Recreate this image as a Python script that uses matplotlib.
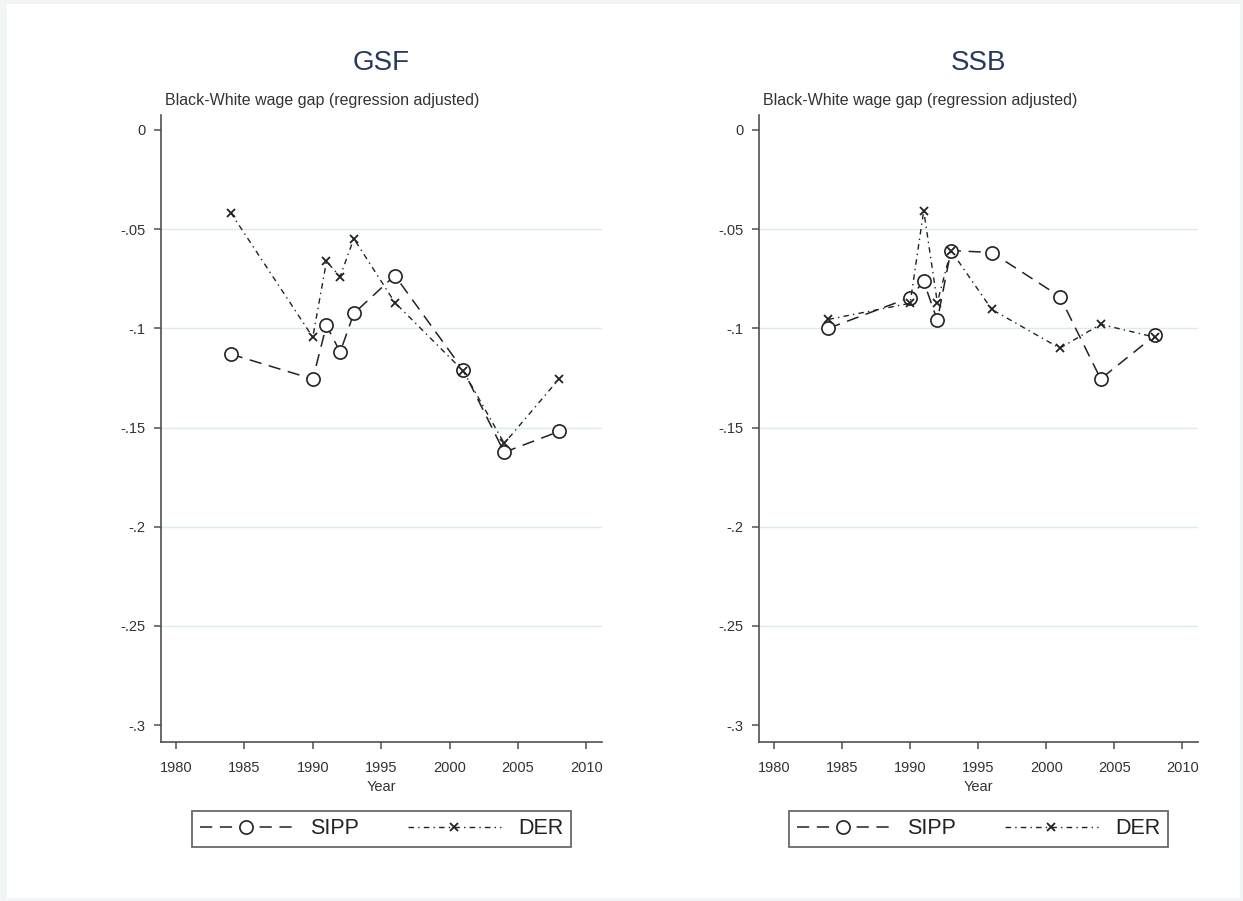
import matplotlib.pyplot as plt
from matplotlib.patches import Rectangle
from matplotlib.lines import Line2D

plt.rcParams["font.family"] = ["Liberation Sans", "DejaVu Sans"]

# survey years
years = [1984, 1990, 1991, 1992, 1993, 1996, 2001, 2004, 2008]

# GSF panel
gsf_sipp = [-0.113, -0.1256, -0.0985, -0.112, -0.0925, -0.0734, -0.121, -0.1625, -0.152]
gsf_der = [-0.0417, -0.1045, -0.0663, -0.0739, -0.0548, -0.087, -0.1215, -0.158, -0.1256]

# SSB panel
ssb_sipp = [-0.100, -0.0845, -0.0764, -0.096, -0.0608, -0.0618, -0.084, -0.1255, -0.1035]
ssb_der = [-0.0955, -0.0874, -0.0407, -0.087, -0.0608, -0.0905, -0.110, -0.098, -0.1045]

panel_titles = ["GSF", "SSB"]
y_ticks = [0, -0.05, -0.1, -0.15, -0.2, -0.25, -0.3]
y_tick_labels = ["0", "-.05", "-.1", "-.15", "-.2", "-.25", "-.3"]
x_ticks = [1980, 1985, 1990, 1995, 2000, 2005, 2010]
grid_levels = [-0.05, -0.1, -0.15, -0.2, -0.25]
series_names = ["SIPP", "DER"]

W, H = 1243, 901
fig = plt.figure(figsize=(W / 100, H / 100), dpi=100, facecolor="#f1f5f6")

# white inner page (behind the axes)
fig.patches.append(Rectangle((7 / W, 1 - 898 / H), (1240 - 7) / W, (898 - 4) / H,
                             transform=fig.transFigure, facecolor="white",
                             edgecolor="none", zorder=-10))

navy = "#27385f"
ink = "#222222"
axis_col = "#505050"

sipp_style = dict(color=ink, lw=1.1, linestyle=(0, (8, 5)), marker="o",
                  markersize=9.5, markerfacecolor="white", markeredgecolor=ink,
                  markeredgewidth=1.2)
der_style = dict(color=ink, lw=1.0, linestyle=(0, (4, 3, 1, 3)), marker="x",
                 markersize=6, markeredgecolor=ink, markeredgewidth=1.3)

panels = [(161, 602, gsf_sipp, gsf_der), (759, 1198, ssb_sipp, ssb_der)]
top_px, bot_px = 115, 742

for (x0, x1, sipp, der), title in zip(panels, panel_titles):
    ax = fig.add_axes([x0 / W, 1 - bot_px / H, (x1 - x0) / W, (bot_px - top_px) / H])
    ax.set_facecolor("none")

    for g in grid_levels:
        ax.axhline(g, color="#dcebef", lw=1.0, zorder=0)

    ax.plot(years, sipp, **sipp_style, zorder=3)
    ax.plot(years, der, **der_style, zorder=4)

    ax.set_xlim(1978.9, 2011.15)
    ax.set_ylim(-0.3085, 0.0075)
    ax.set_xticks(x_ticks)
    ax.set_yticks(y_ticks)
    ax.set_yticklabels(y_tick_labels)

    for side in ["top", "right"]:
        ax.spines[side].set_visible(False)
    for side in ["left", "bottom"]:
        ax.spines[side].set_color(axis_col)
        ax.spines[side].set_linewidth(1.2)
    ax.tick_params(axis="both", direction="out", length=5, width=1.1,
                   color=axis_col, labelsize=10.5, labelcolor="#333333")
    ax.tick_params(axis="x", pad=9)
    ax.tick_params(axis="y", pad=6)

    ax.set_xlabel("Year", fontsize=10.5, color="#333333", labelpad=3)

    cx = (x0 + x1) / 2 / W
    fig.text(cx, 1 - 63 / H, title, ha="center", va="center",
             fontsize=20, color=navy)
    fig.text((x0 + 4) / W, 1 - 101 / H, "Black-White wage gap (regression adjusted)",
             ha="left", va="center", fontsize=11.5, color="#333333")

    handles = [Line2D([], [], **sipp_style), Line2D([], [], **der_style)]
    leg = fig.legend(handles, series_names, loc="center",
                     bbox_to_anchor=((x0 + x1) / 2 / W, 1 - 829 / H),
                     ncol=2, fontsize=15.5, frameon=True, fancybox=False,
                     handlelength=4.3, handletextpad=0.8, columnspacing=2.3,
                     borderpad=0.35, numpoints=1)
    leg.get_frame().set_edgecolor("#444444")
    leg.get_frame().set_linewidth(1.3)
    for t in leg.get_texts():
        t.set_color(ink)

fig.savefig("out.png", dpi=100, facecolor=fig.get_facecolor())
